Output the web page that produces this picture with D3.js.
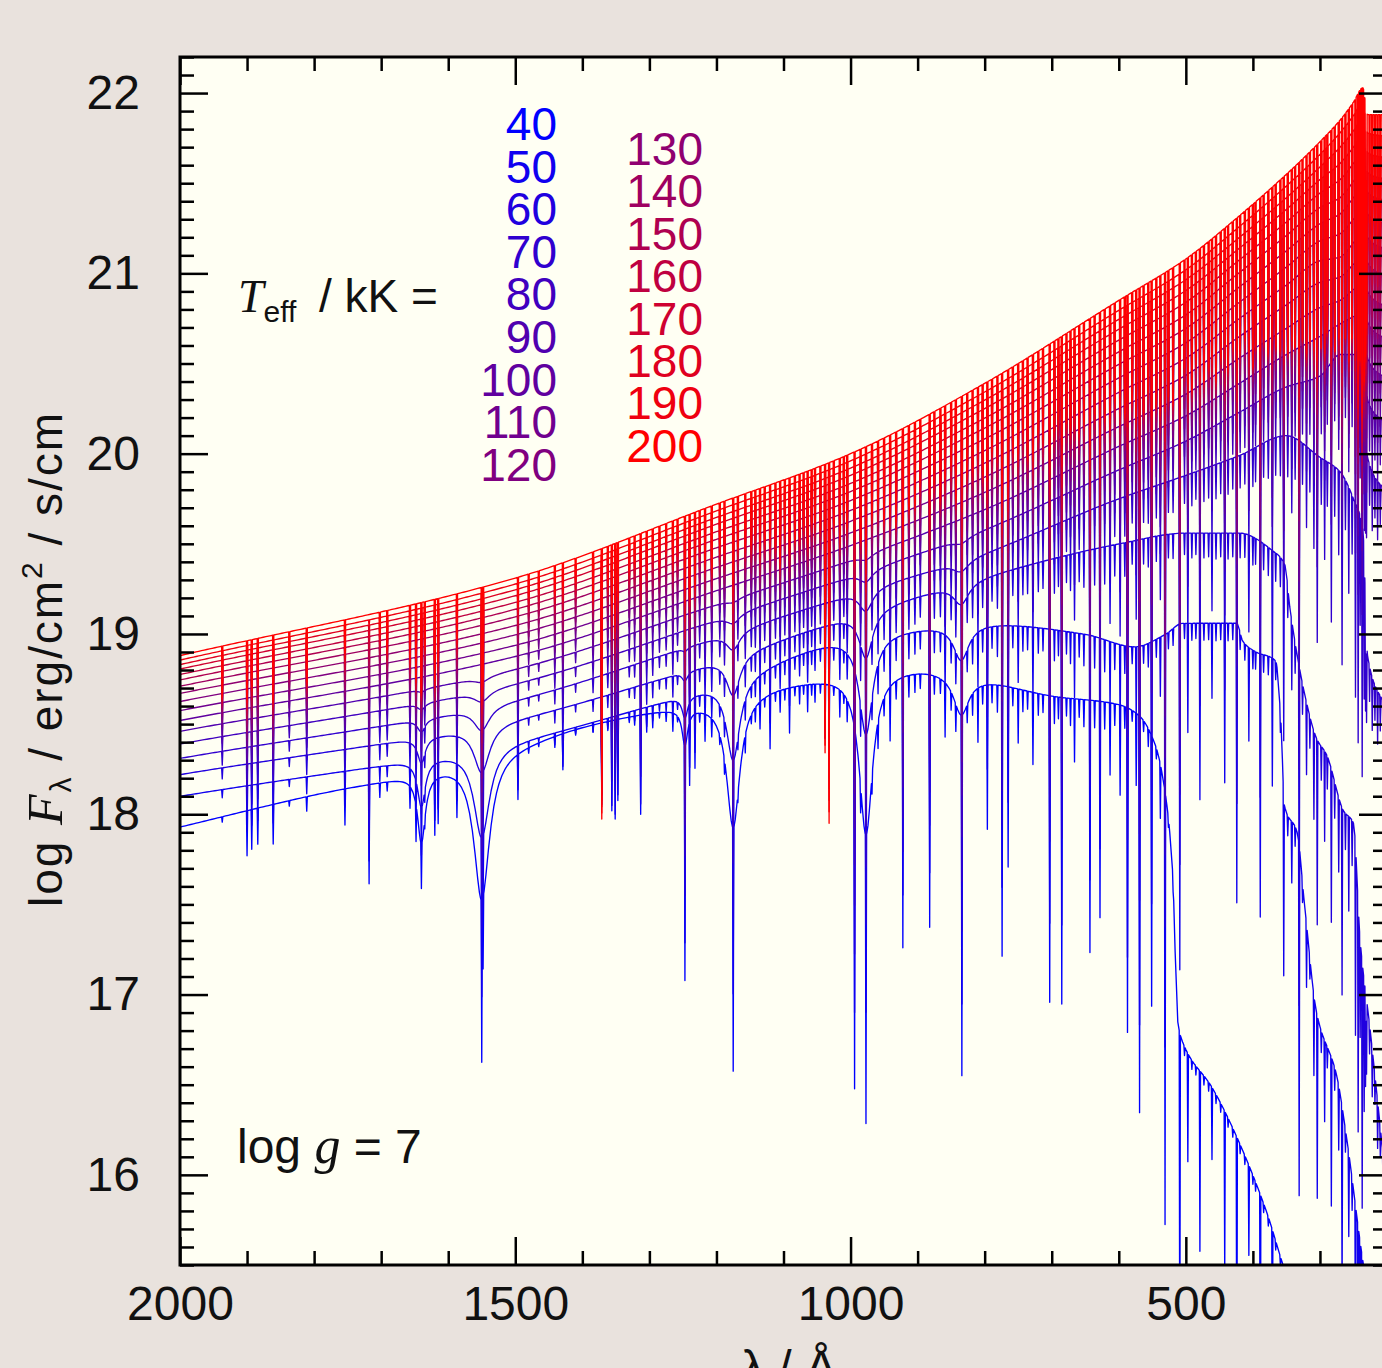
<!DOCTYPE html>
<html><head><meta charset="utf-8">
<script src="https://cdn.jsdelivr.net/npm/d3@7"></script>
<style>html,body{margin:0;padding:0;background:#e9e2dd;}svg{display:block;}</style>
</head><body>
<svg id="chart" width="1382" height="1368"></svg>
<script>
// ---------------- data ----------------
const T_EFF = [40,50,60,70,80,90,100,110,120,130,140,150,160,170,180,190,200];
const X_MAJOR = [2000,1500,1000,500];
const X_LABELS = ["2000","1500","1000","500"];
const Y_MAJOR = [16,17,18,19,20,21,22];
const Y_LABELS = ["16","17","18","19","20","21","22"];

// continuum (log F) of the hotter models at these wavelengths (Å)
const HOT_GRID = [2000,1500,1200,1000,800,600,500,420,350,300,270,250,236,229,200];
const cont200 = [18.88,19.31,19.72,20.00,20.39,20.85,21.08,21.32,21.55,21.73,21.85,21.95,22.03,21.88,21.88];
const cont190 = [18.855,19.277,19.683,19.96,20.342,20.795,21.02,21.26,21.485,21.66,21.78,21.875,21.95,21.78,21.76];
const cont180 = [18.83,19.245,19.646,19.92,20.297,20.745,20.965,21.20,21.42,21.59,21.70,21.79,21.86,21.67,21.64];
const cont170 = [18.805,19.212,19.609,19.88,20.25,20.69,20.905,21.14,21.355,21.52,21.61,21.70,21.77,21.56,21.52];
const cont160 = [18.775,19.175,19.567,19.835,20.197,20.63,20.84,21.075,21.285,21.445,21.52,21.61,21.68,21.45,21.40];
const cont150 = [18.745,19.137,19.525,19.79,20.142,20.565,20.77,21.005,21.21,21.365,21.42,21.51,21.58,21.33,21.27];
const cont140 = [18.71,19.095,19.478,19.74,20.082,20.495,20.695,20.925,21.125,21.275,21.33,21.42,21.48,21.20,21.13];
const cont130 = [18.67,19.047,19.426,19.685,20.017,20.42,20.615,20.84,21.035,21.18,21.22,21.30,21.36,21.06,20.98];
const cont120 = [18.625,18.995,19.369,19.625,19.947,20.34,20.53,20.75,20.935,21.07,21.09,21.17,21.23,20.90,20.81];
const cont110 = [18.575,18.937,19.307,19.56,19.87,20.25,20.435,20.65,20.825,20.95,20.98,21.05,21.10,20.73,20.63];
const cont100 = [18.52,18.875,19.24,19.49,19.785,20.15,20.33,20.53,20.695,20.81,20.85,20.91,20.95,20.53,20.41];
const cont90  = [18.46,18.805,19.164,19.41,19.69,20.04,20.21,20.39,20.55,20.65,20.72,20.76,20.78,20.30,20.16];
const cont80  = [18.39,18.725,19.078,19.32,19.58,19.91,20.07,20.23,20.37,20.43,20.55,20.55,20.53,19.98,19.78];
const cont70  = [18.31,18.635,18.982,19.22,19.45,19.75,19.88,19.99,20.10,19.98,19.90,19.75,19.58,18.88,18.58];
// cooler models: [wavelength, log F]
const cont60 = [[2000,18.22],[1500,18.53],[1200,18.85],[1000,19.10],[800,19.32],[600,19.50],[500,19.56],[420,19.56],[370,19.46],[352,19.38],[345,19.15],[320,18.62],[305,18.42],[290,18.33],[265,18.02],[250,17.95],[240,17.3],[225,16.8],[200,15.9]];
const cont50 = [[2000,18.10],[1500,18.41],[1200,18.72],[1000,18.98],[800,19.06],[650,19.0],[576,18.93],[530,19.0],[505,19.06],[424,19.06],[415,18.96],[395,18.9],[366,18.85],[358,18.5],[353,18.05],[334,17.9],[323,17.5],[305,16.9],[275,16.55],[260,16.2],[235,15.5],[200,14.8]];
const cont40 = [[2000,17.93],[1800,18.11],[1660,18.22],[1500,18.38],[1400,18.49],[1300,18.57],[1200,18.63],[1100,18.72],[1000,18.78],[900,18.81],[800,18.75],[700,18.66],[600,18.61],[570,18.55],[545,18.38],[530,18.1],[520,17.7],[512,16.85],[505,16.74],[460,16.48],[435,16.3],[380,15.8],[355,15.5],[300,14.9],[200,14.0]];

// broad lines of the cool models: [λ, half width Å, depth for 40..90 kK]
const BROAD_LINES = [
  [1640, 7,  [0.38,0.26,0.14,0.07,0.035,0.015]],
  [1550, 14, [0.80,0.50,0.26,0.13,0.06,0.03]],
  [1247, 5,  [0.20,0.12,0.05,0.02,0.0,0.0]],
  [1175, 12, [0.72,0.45,0.22,0.10,0.05,0.02]],
  [977,  12, [0.90,0.55,0.26,0.12,0.06,0.03]],
  [835,  14, [0.22,0.20,0.12,0.06,0.03,0.0]]
];

// narrow lines: [λ, depth (dex) at 40 kK, depth at 200 kK]
const LINES = [
 [1937,0.03,0.28],[1900,0.25,0.32],[1893,0.22,0.26],[1884,0.2,0.22],[1861,0.22,0.36],[1837,0.03,0.18],
 [1811,0.08,0.3],[1754,0.2,0.18],[1718,0.55,0.0],[1702,0.08,0.12],[1691,0.05,0.22],[1657,0.12,0.3],
 [1648,0.2,0.42],[1640,0.25,0.5],[1635,0.05,0.25],[1620,0.3,0.45],[1615,0.25,0.35],[1587,0.2,0.25],
 [1550,0.9,0.6],[1548,0.4,0.5],[1496,0.25,0.15],[1480,0.03,0.12],[1465,0.02,0.1],[1441,0.06,0.15],
 [1429,0.2,0.15],[1410,0.03,0.12],[1384,0.04,0.25],[1371,0.4,1.5],[1362,0.05,0.2],[1356,0.5,0.35],
 [1351,0.55,0.45],[1347,0.45,0.3],[1330,0.03,0.18],[1322,0.05,0.15],[1313,0.55,0.2],[1304,0.1,0.22],
 [1295,0.08,0.15],[1285,0.03,0.2],[1275,0.05,0.14],[1265,0.1,0.22],[1258,0.03,0.18],[1247,1.3,0.4],
 [1240,0.35,0.45],[1232,0.3,0.4],[1225,0.05,0.2],[1217,0.15,0.3],[1207,0.1,0.35],[1195,0.05,0.25],
 [1188,0.08,0.3],[1175,1.35,0.45],[1168,0.05,0.28],[1157,0.1,0.3],[1148,0.05,0.3],[1142,0.08,0.25],
 [1135,0.15,0.35],[1128,0.05,0.3],[1120,0.3,0.3],[1112,0.05,0.35],[1105,0.12,0.45],[1098,0.06,0.3],
 [1091,0.25,0.4],[1083,0.05,0.35],[1076,0.1,0.35],[1070,0.05,0.3],[1064,0.15,0.4],[1058,0.06,0.3],
 [1053,0.1,0.3],[1045,0.05,0.35],[1038,0.3,1.6],[1032,0.35,2.0],[1025,0.05,0.35],[1016,0.15,0.45],
 [1010,0.05,0.3],[1005,0.12,0.4],[994,2.0,0.35],[985,0.15,0.5],[977,1.6,0.6],[968,0.1,0.4],
 [959,0.15,0.35],[950,0.1,0.45],[941,0.3,0.4],[932,0.1,0.5],[922,1.5,0.55],[913,0.12,0.45],
 [904,0.1,0.45],[896,0.08,0.35],[882,1.4,0.45],[875,0.1,0.4],[866,0.08,0.5],[859,0.3,0.4],
 [850,0.1,0.35],[843,0.15,0.55],[834,2.0,0.5],[826,0.1,0.45],[818,0.12,0.45],[810,0.3,0.35],
 [803,0.1,0.5],[796,0.8,0.55],[789,0.1,0.4],[781,0.15,0.45],[774,1.5,0.7],[765,1.0,0.65],
 [758,0.1,0.45],[750,0.3,0.5],[743,0.12,0.4],[736,0.1,0.55],[728,0.4,0.55],[720,0.12,0.45],
 [713,0.1,0.5],[703,1.7,0.6],[696,0.15,0.5],[690,0.12,0.45],[685,1.7,0.6],[678,0.1,0.5],
 [672,0.15,0.55],[666,0.35,0.5],[659,0.1,0.6],[652,0.15,0.55],[643,1.4,0.7],[636,0.15,0.55],
 [628,1.2,0.7],[621,0.15,0.6],[613,0.4,0.65],[606,0.12,0.55],[598,0.5,0.6],[591,0.12,0.65],
 [587,1.8,0.6],[580,0.06,0.6],[574,0.4,0.7],[569,2.2,0.6],[563,0.06,0.7],[556,0.1,0.6],
 [551,1.5,0.75],[544,0.06,0.7],[538,0.3,0.75],[531,2.4,0.6],[526,0.05,0.7],[519,0.05,0.75],
 [509,2.0,0.7],[502,0.05,0.6],[497,0.6,0.7],[491,0.05,0.75],[485,0.05,0.6],[479,1.0,0.65],
 [473,0.05,0.75],[466,0.05,0.7],[461,0.4,0.65],[455,0.05,0.8],[448,0.05,0.7],[442,0.9,0.65],
 [437,0.05,0.8],[430,0.05,0.7],[424,1.6,0.8],[419,0.05,0.75],[412,0.05,0.7],[406,0.5,0.8],
 [400,0.05,0.9],[396,0.05,0.8],[389,1.5,0.85],[384,0.05,0.8],[377,0.05,0.9],[371,0.7,0.85],
 [366,0.05,0.9],[359,0.05,0.95],[354,1.0,0.9],[348,0.05,1.0],[342,0.3,0.95],[337,0.05,1.0],
 [331,2.0,1.05],[326,0.05,1.0],[320,0.3,1.1],[315,0.05,1.05],[309,0.4,1.1],[304,1.0,1.2],
 [298,0.05,1.15],[293,0.4,1.2],[289,0.05,1.1],[283,0.8,1.2],[278,0.05,1.25],[272,0.3,1.2],
 [267,1.0,1.3],[262,0.05,1.25],[257,0.4,1.4],[252,0.1,1.3],[247,1.0,1.4],[243,1.2,1.7],
 [240,0.4,1.5],[237,1.3,1.8],[234,0.6,1.6],[232,0.4,1.4],[230.5,0.3,1.2],[226,0.1,0.6],
 [222,0.2,0.7],[218,0.1,0.6],[214,0.2,0.7],[210,0.1,0.6],[206,0.1,0.6]
];

// ---------------- layout ----------------
const X0 = 180, X1 = 1387, Y0 = 57, Y1 = 1265;
const x = d3.scaleLinear().domain([2000, 200]).range([X0, X1]);
const y = d3.scaleLinear().domain([15.5, 22.2]).range([Y1, Y0]);
const colorOf = T => d3.interpolateRgb("#0000ff", "#ff0000")((T - 40) / 160);
const SANS = "'Liberation Sans', Arial, Helvetica, sans-serif";
const SERIF = "'Liberation Serif', 'Times New Roman', serif";

const hotConts = {70:cont70,80:cont80,90:cont90,100:cont100,110:cont110,120:cont120,130:cont130,
  140:cont140,150:cont150,160:cont160,170:cont170,180:cont180,190:cont190,200:cont200};
function continuumPairs(T) {
  if (T === 40) return cont40;
  if (T === 50) return cont50;
  if (T === 60) return cont60;
  return HOT_GRID.map((w, i) => [w, hotConts[T][i]]);
}

// monotone cubic (Fritsch–Carlson) evaluation through the read continuum points
function monotone(pairs) {
  const p = pairs.slice().sort((a, b) => a[0] - b[0]);
  const n = p.length, xs = p.map(d => d[0]), ys = p.map(d => d[1]);
  const dx = [], m = [];
  for (let i = 0; i < n - 1; i++) { dx[i] = xs[i+1] - xs[i]; m[i] = (ys[i+1] - ys[i]) / dx[i]; }
  const t = new Array(n);
  t[0] = m[0]; t[n-1] = m[n-2];
  for (let i = 1; i < n - 1; i++) {
    if (m[i-1] * m[i] <= 0) t[i] = 0;
    else t[i] = 3 * (dx[i-1] + dx[i]) / ((2*dx[i] + dx[i-1]) / m[i-1] + (dx[i] + 2*dx[i-1]) / m[i]);
  }
  return function (v) {
    let i = d3.bisectRight(xs, v) - 1;
    i = Math.max(0, Math.min(n - 2, i));
    const h = dx[i], s = (v - xs[i]) / h;
    const s2 = s*s, s3 = s2*s;
    return (2*s3 - 3*s2 + 1)*ys[i] + (s3 - 2*s2 + s)*h*t[i] + (-2*s3 + 3*s2)*ys[i+1] + (s3 - s2)*h*t[i+1];
  };
}

const HALF = 0.9; // half width of a narrow line in Å
function spectrum(T) {
  const pairs = continuumPairs(T);
  const cont = monotone(pairs);
  const f = (T - 40) / 160;
  const bi = (T - 40) / 10;
  const broad = BROAD_LINES.filter(b => bi <= 5).map(b => [b[0], b[1], b[2][bi]]).filter(b => b[2] > 0);
  const narrow = LINES.map(l => [l[0], l[1] + (l[2] - l[1]) * f]).filter(l => l[1] > 0);
  const pts = new Set();
  pairs.forEach(p => pts.add(p[0]));
  for (let w = 200; w <= 2000; w += 4) pts.add(w);
  broad.forEach(b => [-8,-5,-3.5,-2.5,-1.8,-1.3,-1,-0.7,-0.45,-0.25,-0.1,0,0.1,0.25,0.45,0.7,1,1.3,1.8,2.5,3.5,5,8]
    .forEach(k => pts.add(b[0] + k * b[1])));
  narrow.forEach(l => { pts.add(l[0] - HALF); pts.add(l[0]); pts.add(l[0] + HALF); });
  const wl = Array.from(pts).filter(w => w >= 200 && w <= 2000).sort((a, b) => b - a);
  return wl.map(w => {
    let v = cont(w);
    broad.forEach(b => { const u = (w - b[0]) / b[1]; v -= b[2] / (1 + u*u); });
    narrow.forEach(l => { const d = Math.abs(w - l[0]); if (d < HALF) v -= l[1] * (1 - d / HALF); });
    return [w, v];
  });
}

// ---------------- draw ----------------
const svg = d3.select("#chart");
svg.append("rect").attr("width", 1382).attr("height", 1368).attr("fill", "#e9e2dd");
svg.append("rect").attr("x", X0).attr("y", Y0).attr("width", X1 - X0).attr("height", Y1 - Y0).attr("fill", "#fffff3");
svg.append("clipPath").attr("id", "clip").append("rect")
  .attr("x", X0).attr("y", Y0).attr("width", X1 - X0).attr("height", Y1 - Y0);

const line = d3.line().x(d => x(d[0])).y(d => y(d[1]));
const gSeries = svg.append("g").attr("clip-path", "url(#clip)");
T_EFF.forEach(T => {
  gSeries.append("path").datum(spectrum(T))
    .attr("d", line).attr("fill", "none").attr("stroke", colorOf(T))
    .attr("stroke-width", 1.35).attr("stroke-linejoin", "round");
});

// axes
const xMinor = d3.range(200, 2001, 100).filter(v => v % 500 !== 0);
const yMinor = d3.range(155, 223, 1).map(v => v / 10).filter(v => Math.abs(v - Math.round(v)) > 1e-6);
function styleAxis(g) {
  g.select(".domain").remove();
  g.selectAll(".tick line").attr("stroke", "#000").attr("stroke-width", 2.5);
  g.selectAll("text").attr("font-family", SANS).attr("font-size", 48).attr("fill", "#111");
}
svg.append("g").attr("transform", `translate(0,${Y1})`)
  .call(d3.axisBottom(x).tickValues(X_MAJOR).tickSize(-28).tickPadding(21).tickFormat((d, i) => X_LABELS[i])).call(styleAxis);
svg.append("g").attr("transform", `translate(0,${Y1})`)
  .call(d3.axisBottom(x).tickValues(xMinor).tickSize(-14).tickFormat("")).call(styleAxis);
svg.append("g").attr("transform", `translate(0,${Y0})`)
  .call(d3.axisTop(x).tickValues(X_MAJOR).tickSize(-28).tickFormat("")).call(styleAxis);
svg.append("g").attr("transform", `translate(0,${Y0})`)
  .call(d3.axisTop(x).tickValues(xMinor).tickSize(-14).tickFormat("")).call(styleAxis);
svg.append("g").attr("transform", `translate(${X0},0)`)
  .call(d3.axisLeft(y).tickValues(Y_MAJOR).tickSize(-28).tickPadding(40).tickFormat((d, i) => Y_LABELS[i])).call(styleAxis);
svg.append("g").attr("transform", `translate(${X0},0)`)
  .call(d3.axisLeft(y).tickValues(yMinor).tickSize(-14).tickFormat("")).call(styleAxis);
svg.append("g").attr("transform", `translate(${X1},0)`)
  .call(d3.axisRight(y).tickValues(Y_MAJOR).tickSize(-28).tickFormat("")).call(styleAxis);
svg.append("g").attr("transform", `translate(${X1},0)`)
  .call(d3.axisRight(y).tickValues(yMinor).tickSize(-14).tickFormat("")).call(styleAxis);

svg.append("rect").attr("x", X0).attr("y", Y0).attr("width", X1 - X0).attr("height", Y1 - Y0)
  .attr("fill", "none").attr("stroke", "#000").attr("stroke-width", 3);

// axis titles
const yt = svg.append("text").attr("transform", "translate(62,660) rotate(-90)")
  .attr("text-anchor", "middle").attr("font-family", SANS).attr("font-size", 46).attr("fill", "#111")
  .attr("textLength", 494).attr("lengthAdjust", "spacing");
yt.append("tspan").text("log ");
yt.append("tspan").attr("font-family", SERIF).attr("font-style", "italic").attr("font-size", 50).text("F");
yt.append("tspan").attr("font-size", 30).attr("dy", 9).text("λ");
yt.append("tspan").attr("dy", -9).text(" / erg/cm");
yt.append("tspan").attr("font-size", 30).attr("dy", -20).text("2");
yt.append("tspan").attr("dy", 20).text("  / s/cm");

svg.append("text").attr("x", 789).attr("y", 1384).attr("text-anchor", "middle")
  .attr("font-family", SANS).attr("font-size", 48).attr("fill", "#111").text("λ / Å");

// T_eff label
const tl = svg.append("text").attr("x", 238).attr("y", 312).attr("font-family", SANS).attr("fill", "#111");
tl.append("tspan").attr("font-family", SERIF).attr("font-style", "italic").attr("font-size", 46).text("T");
tl.append("tspan").attr("font-size", 30).attr("dy", 10).text("eff");
tl.append("tspan").attr("font-size", 46).attr("dy", -10).attr("x", 319).text("/ kK =");

// legend of temperatures
const col1 = T_EFF.slice(0, 9), col2 = T_EFF.slice(9);
svg.append("g").selectAll("text").data(col1).join("text")
  .attr("x", 557).attr("y", (d, i) => 140 + 42.6 * i).attr("text-anchor", "end")
  .attr("font-family", SANS).attr("font-size", 46).attr("fill", d => colorOf(d)).text(d => d);
svg.append("g").selectAll("text").data(col2).join("text")
  .attr("x", 703).attr("y", (d, i) => 165 + 42.4 * i).attr("text-anchor", "end")
  .attr("font-family", SANS).attr("font-size", 46).attr("fill", d => colorOf(d)).text(d => d);

// log g label
const lg = svg.append("text").attr("x", 237).attr("y", 1163).attr("font-family", SANS).attr("font-size", 48).attr("fill", "#111");
lg.append("tspan").text("log ");
lg.append("tspan").attr("font-family", SERIF).attr("font-style", "italic").attr("font-size", 52).text("g");
lg.append("tspan").text(" = 7");
</script>
</body></html>
